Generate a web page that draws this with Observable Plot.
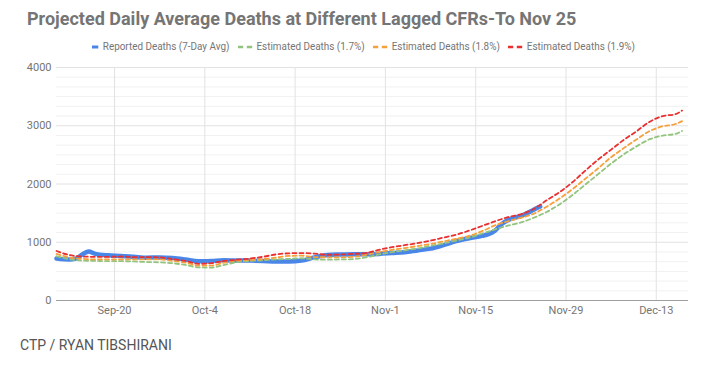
<!DOCTYPE html>
<html><head><meta charset="utf-8">
<script src="https://cdn.jsdelivr.net/npm/d3@7"></script>
<script src="https://cdn.jsdelivr.net/npm/@observablehq/plot@0.6"></script>
<style>
body{margin:0;background:#fff;font-family:Roboto,sans-serif;}
#wrap{position:relative;width:710px;height:366px;overflow:hidden;}
#title{position:absolute;left:27px;top:8px;font-size:18px;font-weight:bold;color:#757575;white-space:nowrap;}
#legend{position:absolute;left:92px;top:40px;font-size:11px;color:#757575;display:flex;align-items:center;white-space:nowrap;transform:scaleX(0.9);transform-origin:0 50%;}
.item{display:flex;align-items:center;margin-right:9px}
.item svg{margin-right:4px}
#chart{position:absolute;left:0;top:56px;}
#caption{position:absolute;left:20px;top:337px;font-size:14px;color:#555;}
</style></head><body>
<div id="wrap">
<div id="title">Projected Daily Average Deaths at Different Lagged CFRs-To Nov 25</div>
<div id="legend"></div>
<div id="chart"></div>
<div id="caption">CTP / RYAN TIBSHIRANI</div>
</div>
<script>
const seriesNames = ["Reported Deaths (7-Day Avg)", "Estimated Deaths (1.7%)", "Estimated Deaths (1.8%)", "Estimated Deaths (1.9%)"];
const seriesColors = ["#4a86e8", "#93c47d", "#f6a03c", "#ea2f2f"];

const reportedDates = ["2020-09-11","2020-09-13","2020-09-14","2020-09-15","2020-09-16","2020-09-17","2020-09-19","2020-09-21","2020-09-23","2020-09-25","2020-09-27","2020-09-29",
"2020-10-01","2020-10-03","2020-10-05","2020-10-07","2020-10-09","2020-10-11","2020-10-13","2020-10-15","2020-10-17","2020-10-19","2020-10-21","2020-10-23","2020-10-25","2020-10-27","2020-10-29","2020-10-31",
"2020-11-02","2020-11-04","2020-11-06","2020-11-08","2020-11-10","2020-11-12","2020-11-14","2020-11-16","2020-11-17","2020-11-18","2020-11-19","2020-11-20","2020-11-21","2020-11-22","2020-11-23","2020-11-24","2020-11-25"];
const reportedValues = [720,705,720,790,840,800,775,765,750,735,740,730,
705,675,680,690,685,685,680,670,670,685,740,780,790,795,795,800,
815,830,860,890,950,1020,1070,1110,1140,1200,1310,1380,1420,1450,1500,1560,1615];

const estDates = ["2020-09-11","2020-09-13","2020-09-15","2020-09-17","2020-09-19","2020-09-21","2020-09-23","2020-09-25","2020-09-27","2020-09-29",
"2020-10-01","2020-10-03","2020-10-05","2020-10-07","2020-10-09","2020-10-11","2020-10-13","2020-10-15","2020-10-17","2020-10-19","2020-10-21","2020-10-23","2020-10-25","2020-10-27","2020-10-29","2020-10-31",
"2020-11-02","2020-11-04","2020-11-06","2020-11-08","2020-11-10","2020-11-12","2020-11-14","2020-11-16","2020-11-18","2020-11-20","2020-11-22","2020-11-24","2020-11-26","2020-11-28","2020-11-30",
"2020-12-02","2020-12-04","2020-12-06","2020-12-08","2020-12-10","2020-12-12","2020-12-14","2020-12-16","2020-12-17"];
const est17 = [760,710,685,680,675,675,670,660,655,640,
610,570,565,610,660,680,690,705,715,725,705,700,705,710,740,790,
830,860,895,940,980,1030,1080,1150,1220,1285,1340,1420,1520,1650,1810,
1990,2170,2350,2510,2650,2770,2830,2860,2910];
const est18 = [800,740,715,705,705,705,705,705,705,680,
650,600,600,650,685,695,710,735,765,770,745,742,742,748,785,830,
870,900,935,970,1015,1060,1110,1190,1290,1360,1420,1490,1610,1750,1910,
2090,2270,2460,2620,2770,2910,2990,3030,3080];
const est19 = [850,780,755,750,750,755,745,745,740,710,
680,630,640,680,700,720,750,790,810,815,805,785,790,800,815,870,
915,950,985,1028,1080,1130,1200,1280,1360,1430,1480,1570,1720,1860,2030,
2230,2420,2590,2760,2910,3070,3165,3200,3260];

const xTickDates = ["2020-09-20","2020-10-04","2020-10-18","2020-11-01","2020-11-15","2020-11-29","2020-12-13"];
const xDomain = ["2020-09-11","2020-12-18"];
const yMajorTicks = [0,1000,2000,3000,4000];

const parse = d3.utcParse("%Y-%m-%d");
const reported = reportedDates.map((d,i)=>({date:parse(d), value:reportedValues[i]}));
const mk = arr => estDates.map((d,i)=>({date:parse(d), value:arr[i]}));
const e17 = mk(est17), e18 = mk(est18), e19 = mk(est19);
const ticks = xTickDates.map(parse);
const yMinor = d3.range(0, 24).map(i => i*1000/6).filter(v => v % 1000 !== 0);

const dashed = (data, color) => Plot.lineY(data, {x:"date", y:"value", stroke:color, strokeWidth:1.8, strokeDasharray:"4,3", curve:"monotone-x"});

const chart = Plot.plot({
  width:710, height:266,
  marginTop:11, marginBottom:22, marginLeft:56, marginRight:22,
  style:{fontFamily:"Roboto, sans-serif", fontSize:"11px", color:"#757575", background:"white"},
  x:{type:"utc", domain:xDomain.map(parse), ticks:ticks, tickFormat:d3.utcFormat("%b-%-d"), tickSize:0, tickPadding:6, label:null},
  y:{domain:[0,4000], ticks:yMajorTicks, tickFormat:d => String(d), tickSize:0, tickPadding:5, label:null},
  marks:[
    Plot.ruleY(yMinor, {stroke:"#f1f1f1"}),
    Plot.ruleY(yMajorTicks, {stroke:"#e2e2e2"}),
    Plot.ruleX(ticks, {stroke:"#e2e2e2"}),
    Plot.ruleY([0], {stroke:"#9e9e9e"}),
    Plot.lineY(reported, {x:"date", y:"value", stroke:seriesColors[0], strokeWidth:4.5, curve:"monotone-x"}),
    dashed(e17, seriesColors[1]),
    dashed(e18, seriesColors[2]),
    dashed(e19, seriesColors[3])
  ]
});
document.getElementById("chart").appendChild(chart);

const legend = document.getElementById("legend");
seriesNames.forEach((name, i) => {
  const item = document.createElement("div");
  item.className = "item";
  const marker = i === 0
    ? `<svg width="8" height="6"><line x1="0" y1="3" x2="7" y2="3" stroke="${seriesColors[i]}" stroke-width="3"/></svg>`
    : `<svg width="17" height="6"><line x1="0" y1="3" x2="16" y2="3" stroke="${seriesColors[i]}" stroke-width="2.5" stroke-dasharray="6,4"/></svg>`;
  item.innerHTML = marker + `<span>${name}</span>`;
  legend.appendChild(item);
});
</script>
</body></html>
